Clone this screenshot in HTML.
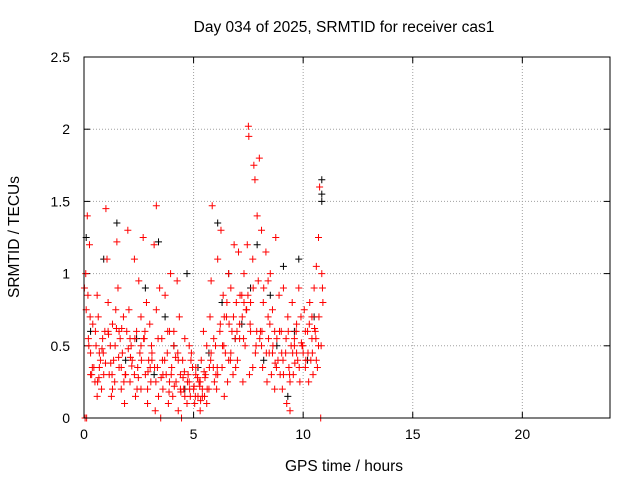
<!DOCTYPE html>
<html><head><meta charset="utf-8"><style>
html,body{margin:0;padding:0;background:#fff;}
svg{display:block;font-family:"Liberation Sans",sans-serif;}
</style></head><body>
<svg id="chart" width="640" height="480">
<rect x="0" y="0" width="640" height="480" fill="#fff"/>
<text x="344" y="32" font-size="15.5" text-anchor="middle">Day 034 of 2025, SRMTID for receiver cas1</text>
<text x="344" y="471" font-size="15.5" text-anchor="middle">GPS time / hours</text>
<text x="0" y="0" font-size="15.5" text-anchor="middle" transform="translate(19,237) rotate(-90)">SRMTID / TECUs</text>
<g id="grid"></g>
<g id="ticks"></g>
<g id="pts"></g>
<rect x="84" y="57" width="526" height="361" fill="none" stroke="#000" stroke-width="1"/>
</svg>
<script>
const xTicks=[0,5,10,15,20];
const yTicks=[0,0.5,1,1.5,2,2.5];
const yTickLabels=["0","0.5","1","1.5","2","2.5"];
const redX=[0.02,0.05,0.08,0.1,0.12,0.15,0.18,0.2,0.25,0.3,0.35,0.4,0.45,
0.5,0.55,0.6,0.65,0.7,0.75,0.8,0.85,0.9,0.95,
1.0,1.05,1.1,1.15,1.2,1.25,1.3,1.35,1.4,1.45,
1.5,1.55,1.6,1.65,1.7,1.75,1.8,1.85,1.9,1.95,
2.0,2.05,2.1,2.15,2.2,2.3,2.35,2.4,2.45,
2.5,2.55,2.6,2.7,2.75,2.8,2.85,2.9,2.95,
3.0,3.05,3.1,3.2,3.25,3.3,3.35,3.4,3.45,
3.5,3.55,3.6,3.7,3.75,3.8,3.85,3.9,3.95,
4.0,4.05,4.1,4.2,4.25,4.3,4.35,4.4,4.45,
4.5,4.55,4.6,4.7,4.75,4.8,4.85,4.9,4.95,
5.0,5.05,5.1,5.2,5.25,5.3,5.35,5.4,5.45,
5.5,5.55,5.6,5.7,5.75,5.8,5.85,5.9,5.95,
6.0,6.05,6.1,6.2,6.25,6.3,6.35,6.4,6.45,
6.5,6.55,6.6,6.7,6.75,6.8,6.85,6.9,6.95,
7.0,7.05,7.1,7.2,7.25,7.3,7.35,7.4,7.45,
7.5,7.52,7.55,7.6,7.7,7.75,7.8,7.85,7.9,7.95,
8.0,8.05,8.1,8.15,8.2,8.3,8.35,8.4,8.45,
8.5,8.55,8.6,8.7,8.75,8.8,8.85,8.9,8.95,
9.0,9.05,9.1,9.2,9.25,9.3,9.35,9.4,9.45,
9.5,9.55,9.6,9.7,9.75,9.8,9.85,9.9,9.95,
10.0,10.05,10.1,10.2,10.25,10.3,10.35,10.4,10.45,
10.5,10.55,10.6,10.65,10.7,10.75,10.8,10.85,10.9,
0.3,0.7,1.1,1.3,1.7,2.1,2.3,2.6,2.9,3.1,3.6,3.9,4.1,4.3,4.6,4.8,5.1,5.3,5.6,5.8,6.1,6.4,6.7,7.1,7.3,7.6,8.1,8.4,8.7,9.1,9.4,9.7,10.1,10.4,10.7,
0.6,1.6,2.6,3.3,4.4,5.4,6.6,7.7,8.6,9.6,10.6,
0.22,0.38,0.52,0.68,0.82,0.98,1.12,1.28,1.42,1.58,1.72,1.88,2.02,2.18,2.32,2.48,2.62,2.78,2.92,3.08,3.22,3.38,3.52,3.68,3.82,3.98,4.12,4.28,4.42,4.58,4.72,4.88,5.02,5.18,5.32,5.48,5.62,5.78,5.92,6.08,6.22,6.38,6.52,6.68,6.82,6.98,7.12,7.28,7.42,7.58,7.72,7.88,8.02,8.18,8.32,8.48,8.62,8.78,8.92,9.08,9.22,9.38,9.52,9.68,9.82,9.98,10.12,10.28,10.42,10.58,10.72,10.88,
0.28,0.62,0.88,1.22,1.48,1.82,2.12,2.42,2.72,3.02,3.28,3.58,3.88,4.18,4.52,4.82,5.08,5.28,5.52,5.72,6.02,6.32,6.62,6.92,7.22,7.48,7.82,8.12,8.42,8.72,9.02,9.32,9.62,9.92,10.22,10.52,10.82];
const redY=[0.9,0.0,1.0,0.75,0.0,1.4,0.85,0.55,1.2,0.45,0.3,0.65,0.35,
0.25,0.5,0.15,0.7,0.35,0.4,0.2,0.55,0.3,0.6,
1.45,1.1,0.8,0.3,0.5,0.15,0.65,0.4,0.25,0.75,
1.22,0.9,0.35,0.55,0.2,0.45,0.7,0.1,0.3,0.6,
1.3,0.75,0.25,0.5,0.4,1.1,0.15,0.6,0.35,
0.95,0.45,0.2,1.25,0.55,0.3,0.8,0.1,0.4,
0.65,0.25,0.45,1.2,0.05,1.47,0.35,0.15,0.9,
0.0,0.55,0.2,0.85,0.3,0.45,0.1,0.6,1.0,
0.35,0.15,0.5,0.25,0.95,0.05,0.7,0.3,0.0,
0.4,0.2,0.55,0.1,0.3,0.25,0.15,0.45,0.35,
0.2,0.1,0.3,0.15,0.25,0.05,0.4,0.2,0.6,
0.15,0.3,0.5,0.2,0.7,0.95,1.47,0.35,0.25,
0.5,0.2,1.1,0.6,1.3,0.35,0.85,0.15,0.45,
0.7,0.25,1.0,0.45,0.6,0.3,1.2,0.55,0.8,
0.4,1.15,0.65,0.85,0.25,1.0,0.5,0.75,1.2,
2.02,1.95,0.3,0.8,1.1,1.75,1.65,0.5,1.4,0.95,
1.8,0.6,1.3,0.35,0.9,1.15,0.25,0.7,0.45,
1.0,0.3,0.75,0.2,1.25,0.55,0.4,0.85,0.3,
0.6,0.2,0.9,0.45,0.1,0.7,0.35,0.05,0.5,
0.8,0.3,0.55,0.65,0.4,0.9,0.25,0.7,0.5,
0.45,0.75,0.35,0.6,0.25,0.8,0.4,0.55,0.3,
0.9,0.6,1.05,0.35,1.25,1.6,0.0,1.0,0.8,
0.3,0.45,0.6,0.2,0.35,0.55,0.3,0.7,0.2,0.4,0.3,0.25,0.6,0.4,0.15,0.5,0.35,0.25,0.1,0.45,0.3,0.7,0.9,0.55,0.8,0.6,0.5,0.95,0.6,0.3,0.25,0.45,0.6,0.7,0.5,
0.85,0.6,0.5,0.75,0.2,0.15,0.4,0.35,0.45,0.5,0.4,
0.5,0.35,0.6,0.28,0.48,0.38,0.58,0.3,0.5,0.42,0.62,0.3,0.48,0.36,0.55,0.28,0.4,0.6,0.32,0.5,0.35,0.55,0.28,0.4,0.6,0.3,0.22,0.45,0.18,0.32,0.25,0.4,0.22,0.28,0.12,0.32,0.2,0.4,0.55,0.35,0.65,0.5,0.8,0.4,0.7,0.6,0.85,0.55,0.75,0.65,0.9,0.6,0.55,0.8,0.45,0.65,0.5,0.35,0.6,0.4,0.55,0.3,0.45,0.6,0.35,0.5,0.4,0.65,0.45,0.55,0.7,0.9,
0.7,0.25,0.45,0.38,0.62,0.25,0.42,0.2,0.55,0.35,0.25,0.4,0.18,0.42,0.28,0.2,0.15,0.22,0.28,0.35,0.3,0.5,0.65,0.35,0.7,0.85,0.45,0.6,0.55,0.38,0.45,0.6,0.38,0.52,0.45,0.62,0.5];
const blackX=[0.1,0.3,0.9,1.5,1.9,2.4,2.8,3.2,3.4,3.7,4.1,4.6,4.7,5.2,5.7,6.1,6.3,6.6,6.9,7.2,7.6,7.9,8.2,8.5,8.8,9.1,9.3,9.6,9.8,10.2,10.5,10.85,10.85,10.85];
const blackY=[1.25,0.6,1.1,1.35,0.4,0.55,0.9,0.3,1.22,0.7,0.5,0.2,1.0,0.35,0.45,1.35,0.8,1.0,0.55,0.65,0.9,1.2,0.4,0.85,0.5,1.05,0.15,0.6,1.1,0.4,0.7,1.65,1.55,1.5];

const X0=84,X1=610,Y0=418,Y1=57,XMAX=24,YMAX=2.5;
const sx=v=>X0+(X1-X0)*v/XMAX;
const sy=v=>Y0-(Y0-Y1)*v/YMAX;
const NS="http://www.w3.org/2000/svg";
function mk(tag,attrs,parent){const e=document.createElementNS(NS,tag);for(const k in attrs)e.setAttribute(k,attrs[k]);parent.appendChild(e);return e;}
const grid=document.getElementById('grid'),ticks=document.getElementById('ticks'),pts=document.getElementById('pts');
xTicks.forEach((t,i)=>{
  const x=sx(t);
  if(t>0){const g=mk('line',{x1:x,x2:x,y1:Y0,y2:Y1,stroke:'#a0a0a0','stroke-dasharray':'1,2'},grid);
  
  }
  mk('line',{x1:x,x2:x,y1:Y0,y2:Y0-6,stroke:'#000'},ticks);
  mk('line',{x1:x,x2:x,y1:Y1,y2:Y1+6,stroke:'#000'},ticks);
  const l=mk('text',{x:x,y:Y0+21,'font-size':14,'text-anchor':'middle'},ticks);
  l.textContent=String(t);
  
  
});
yTicks.forEach((t,i)=>{
  const y=sy(t);
  if(t>0&&t<YMAX){const g=mk('line',{x1:X0,x2:X1,y1:y,y2:y,stroke:'#a0a0a0','stroke-dasharray':'1,2'},grid);
  
  }
  mk('line',{x1:X0,x2:X0+6,y1:y,y2:y,stroke:'#000'},ticks);
  mk('line',{x1:X1,x2:X1-6,y1:y,y2:y,stroke:'#000'},ticks);
  const l=mk('text',{x:X0-14,y:y+5,'font-size':14,'text-anchor':'end'},ticks);
  l.textContent=yTickLabels[i];
  
  
});
function plus(x,y,c){
  return mk('path',{d:`M${x-3.5},${y}H${x+3.5}M${x},${y-3.5}V${y+3.5}`,stroke:c,'stroke-width':1,fill:'none'},pts);
}
blackX.forEach((t,i)=>{const p=plus(sx(t),sy(blackY[i]),'#000');
  
  });
redX.forEach((t,i)=>{const p=plus(sx(t),sy(redY[i]),'#ff0000');
  
  });
</script>
</body></html>
